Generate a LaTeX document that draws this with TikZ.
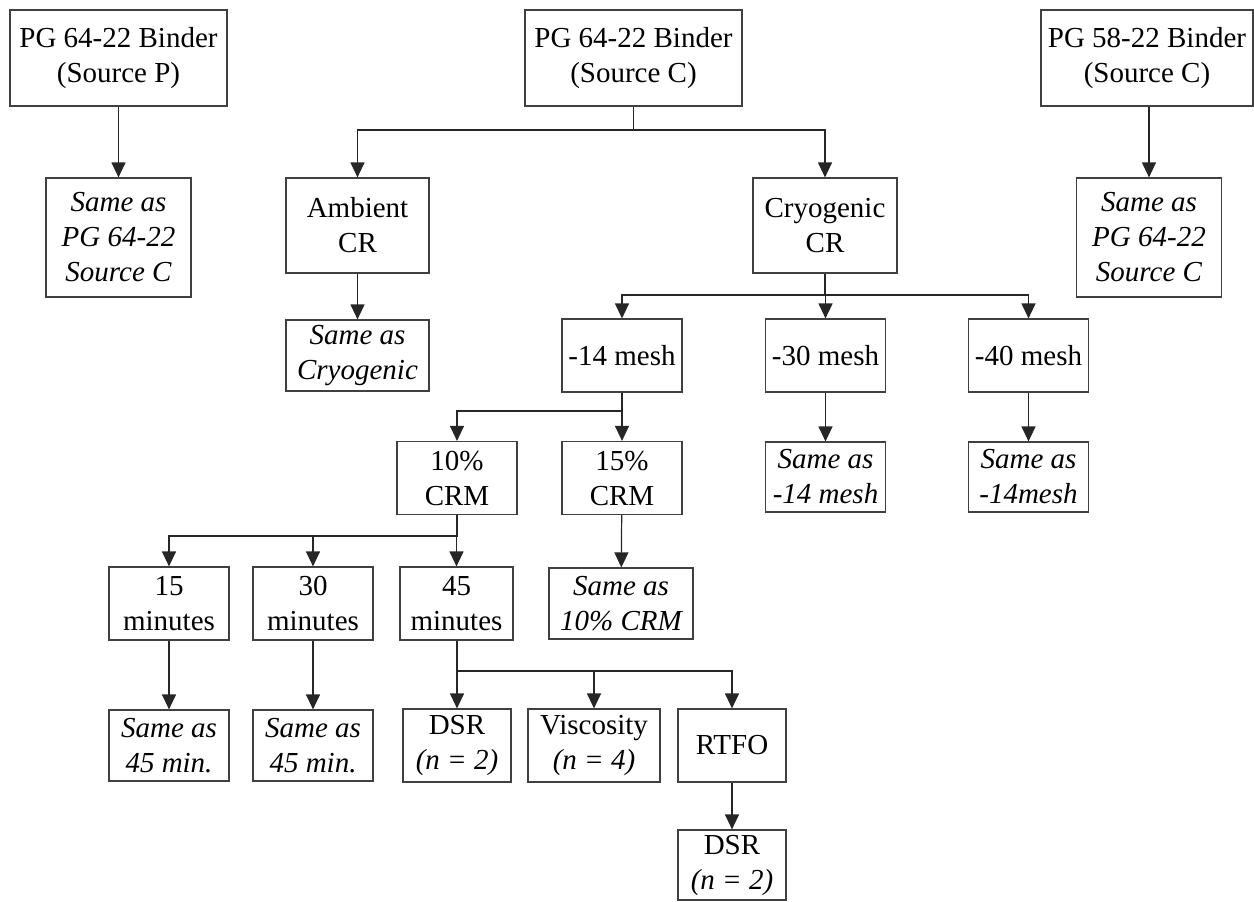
\documentclass[tikz,border=0pt]{standalone}
\usepackage{fontspec}
\setmainfont{Liberation Serif}
\usetikzlibrary{arrows.meta}

\tikzset{
  box/.style={draw=black!75, line width=0.6pt, align=center, inner sep=0pt},
  bigbox/.style={box, minimum width=108.5pt, minimum height=48pt},
  tallbox/.style={box, minimum width=72.5pt, minimum height=59.5pt},
  midbox/.style={box, minimum width=71.5pt, minimum height=47.5pt},
  smallbox/.style={box, minimum width=60pt, minimum height=36.5pt},
  widebox/.style={box, minimum width=72pt, minimum height=35.5pt},
  arr/.style={draw=black!85, line width=0.6pt, -{Triangle[width=7pt,length=7.5pt]}},
  lin/.style={draw=black!85, line width=0.6pt}
}

\begin{document}
\begin{tikzpicture}[x=0.5pt, y=-0.5pt, font=\fontsize{14.5}{17.5}\selectfont]
    \useasboundingbox (0,0) rectangle (1254,901);

    % Ligantes
    \node[bigbox] (srcP) at (118.5,58) {PG 64-22 Binder\\(Source P)};
    \node[bigbox] (srcC) at (633.5,58) {PG 64-22 Binder\\(Source C)};
    \node[bigbox, minimum width=106pt] (srcF) at (1147,58) {PG 58-22 Binder\\(Source C)};

    % Segunda fila
    \node[tallbox] (sameP) at (118.5,237.5) {\itshape Same as\\\itshape PG 64-22\\\itshape Source C};
    \node[midbox] (amb) at (357.5,225.5) {Ambient\\CR};
    \node[midbox, minimum width=72pt] (cryo) at (825,225.5) {Cryogenic\\CR};
    \node[tallbox] (sameF) at (1149,237.5) {\itshape Same as\\\itshape PG 64-22\\\itshape Source C};

    % Mallas
    \node[midbox, minimum height=35.5pt] (sameAmb) at (357.5,355.5) {\itshape Same as\\\itshape Cryogenic};
    \node[smallbox] (m14) at (622,355.5) {-14 mesh};
    \node[smallbox] (m30) at (825.5,355.5) {-30 mesh};
    \node[smallbox] (m40) at (1028.5,355.5) {-40 mesh};

    % Contenido de CRM
    \node[smallbox] (crmA) at (457,478) {10\%\\CRM};
    \node[smallbox] (crmB) at (622,478) {15\%\\CRM};
    \node[smallbox, minimum height=35pt] (sameM30) at (825.5,477) {\itshape Same as\\\itshape -14 mesh};
    \node[smallbox, minimum height=35pt] (sameM40) at (1028.5,477) {\itshape Same as\\\itshape -14mesh};

    % Tiempos
    \node[smallbox] (tA) at (169,603.5) {15\\minutes};
    \node[smallbox] (tB) at (313,603.5) {30\\minutes};
    \node[smallbox, minimum width=56.5pt] (tC) at (456.5,603.5) {45\\minutes};
    \node[widebox] (sameCrm) at (621,603.5) {\itshape Same as\\\itshape 10\% CRM};

    % Ensayos
    \node[smallbox, minimum height=35.5pt] (sameTA) at (169,745.5) {\itshape Same as\\\itshape 45 min.};
    \node[smallbox, minimum height=35.5pt] (sameTB) at (313,745.5) {\itshape Same as\\\itshape 45 min.};
    \node[smallbox, minimum width=54pt] (dsrA) at (457,745.5) {DSR\\\itshape (n = 2)};
    \node[smallbox, minimum width=66pt] (visc) at (594,745.5) {Viscosity\\\itshape (n = 4)};
    \node[smallbox, minimum width=54pt] (rtfo) at (732,745.5) {RTFO};
    \node[smallbox, minimum width=54pt, minimum height=35pt] (dsrB) at (732,865) {DSR\\\itshape (n = 2)};

    % Puntos de bifurcacion
    \coordinate (jC) at (633.5,130);
    \coordinate (jCryo) at (825,295);
    \coordinate (jM) at (622,411);
    \coordinate (jCrm) at (457,536);
    \coordinate (jT) at (457,671);

    % Conectores
    \draw[arr] (srcP) -- (sameP);
    \draw[arr] (srcF.south -| sameF.north) -- (sameF);
    \draw[lin] (srcC) -- (jC);
    \foreach \t in {amb,cryo}
        \draw[arr] (jC) -| (\t.north);
    \draw[arr] (amb) -- (sameAmb);
    \draw[lin] (cryo) -- (jCryo);
    \foreach \t in {m14,m30,m40}
        \draw[arr] (jCryo) -| (\t.north);
    \draw[lin] (m14) -- (jM);
    \foreach \t in {crmA,crmB}
        \draw[arr] (jM) -| (\t.north);
    \draw[arr] (m30) -- (sameM30);
    \draw[arr] (m40) -- (sameM40);
    \draw[lin] (crmA) -- (jCrm);
    \foreach \t in {tA,tB,tC}
        \draw[arr] (jCrm) -| (\t.north);
    \draw[arr] (crmB) -- (sameCrm);
    \draw[arr] (tA) -- (sameTA);
    \draw[arr] (tB) -- (sameTB);
    \draw[lin] (tC.south -| jT) -- (jT);
    \foreach \t in {dsrA,visc,rtfo}
        \draw[arr] (jT) -| (\t.north);
    \draw[arr] (rtfo) -- (dsrB);
\end{tikzpicture}
\end{document}
